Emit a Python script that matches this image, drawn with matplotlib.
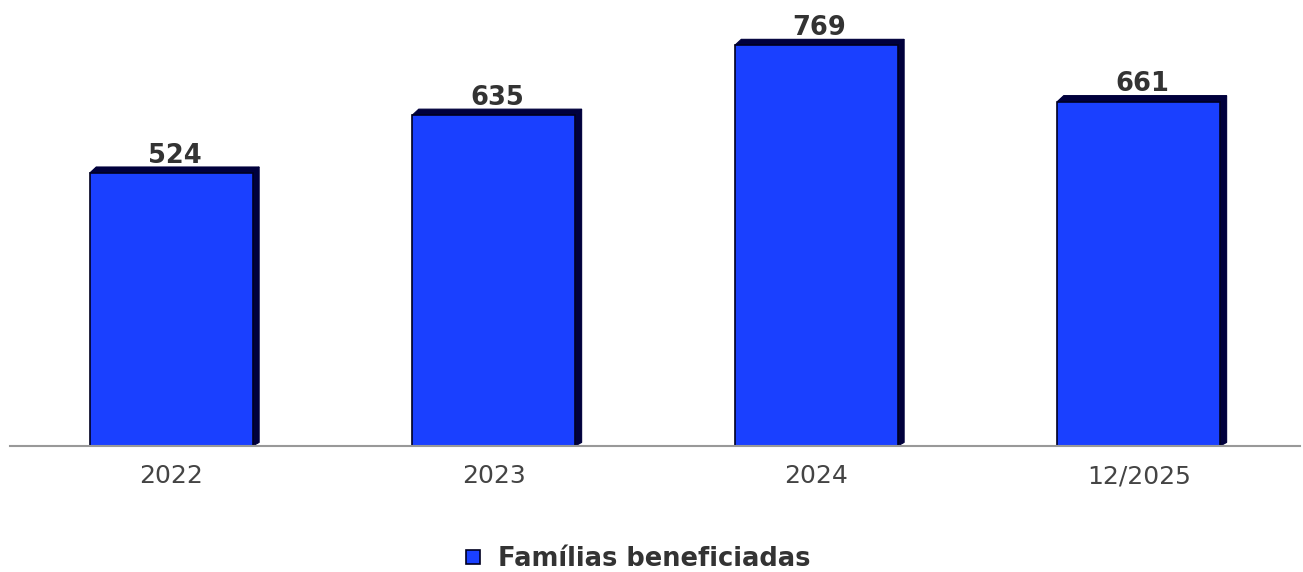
import matplotlib
matplotlib.use("Agg")
import matplotlib.pyplot as plt
from matplotlib.patches import Polygon
from matplotlib.lines import Line2D

plt.rcParams["font.family"] = ["DejaVu Sans"]

# data
categories = ["2022", "2023", "2024", "12/2025"]
familias = [524, 635, 769, 661]
series_name = "Famílias beneficiadas"

face_color = "#1a40ff"
depth_color = "#00003c"

fig = plt.figure(figsize=(13.03, 5.72), dpi=100)
ax = fig.add_axes([10 / 1303, 126 / 572, 1290 / 1303, 446 / 572])

bar_w = 0.505
dx = 0.02   # 3d depth in x (data units)
dy = 11.5   # 3d depth in y (data units)

for i, v in enumerate(familias):
    x0 = i - bar_w / 2
    x1 = i + bar_w / 2
    # top face
    ax.add_patch(Polygon([(x0, v), (x0 + dx, v + dy), (x1 + dx, v + dy), (x1, v)],
                         closed=True, facecolor=depth_color, edgecolor=depth_color,
                         linewidth=0.8, zorder=2))
    # right side
    ax.add_patch(Polygon([(x1, 0), (x1 + dx, dy * 0.6), (x1 + dx, v + dy), (x1, v)],
                         closed=True, facecolor=depth_color, edgecolor=depth_color,
                         linewidth=0.8, zorder=2))
    ax.bar(i, v, width=bar_w, color=face_color, edgecolor="#000020",
           linewidth=1.2, zorder=3)
    ax.annotate(str(v), (i + dx / 2, v + dy), xytext=(0, 3), textcoords="offset points",
                ha="center", va="baseline", fontsize=18.5, fontweight="bold",
                color="#333333", zorder=4)

ax.set_xlim(-0.5, len(categories) - 0.5)
ax.set_ylim(0, 856)
ax.set_xticks(range(len(categories)))
ax.set_xticklabels(categories, fontsize=18, color="#444444")
ax.tick_params(axis="x", length=0, pad=13)
ax.set_yticks([])
for s in ["top", "right", "left"]:
    ax.spines[s].set_visible(False)
ax.spines["bottom"].set_color("#999999")
ax.spines["bottom"].set_linewidth(1.5)
ax.spines["bottom"].set_zorder(5)

handle = Line2D([], [], linestyle="none", marker="s", markersize=9.5,
                markerfacecolor=face_color, markeredgecolor="#000020",
                markeredgewidth=1.2)
leg = fig.legend([handle], [series_name], loc="center", bbox_to_anchor=(0.488, 0.022),
                 frameon=False, handletextpad=0.55, handlelength=0.9,
                 prop={"size": 18.5, "weight": "bold"})
for t in leg.get_texts():
    t.set_color("#333333")

fig.savefig("out.png", dpi=100)
